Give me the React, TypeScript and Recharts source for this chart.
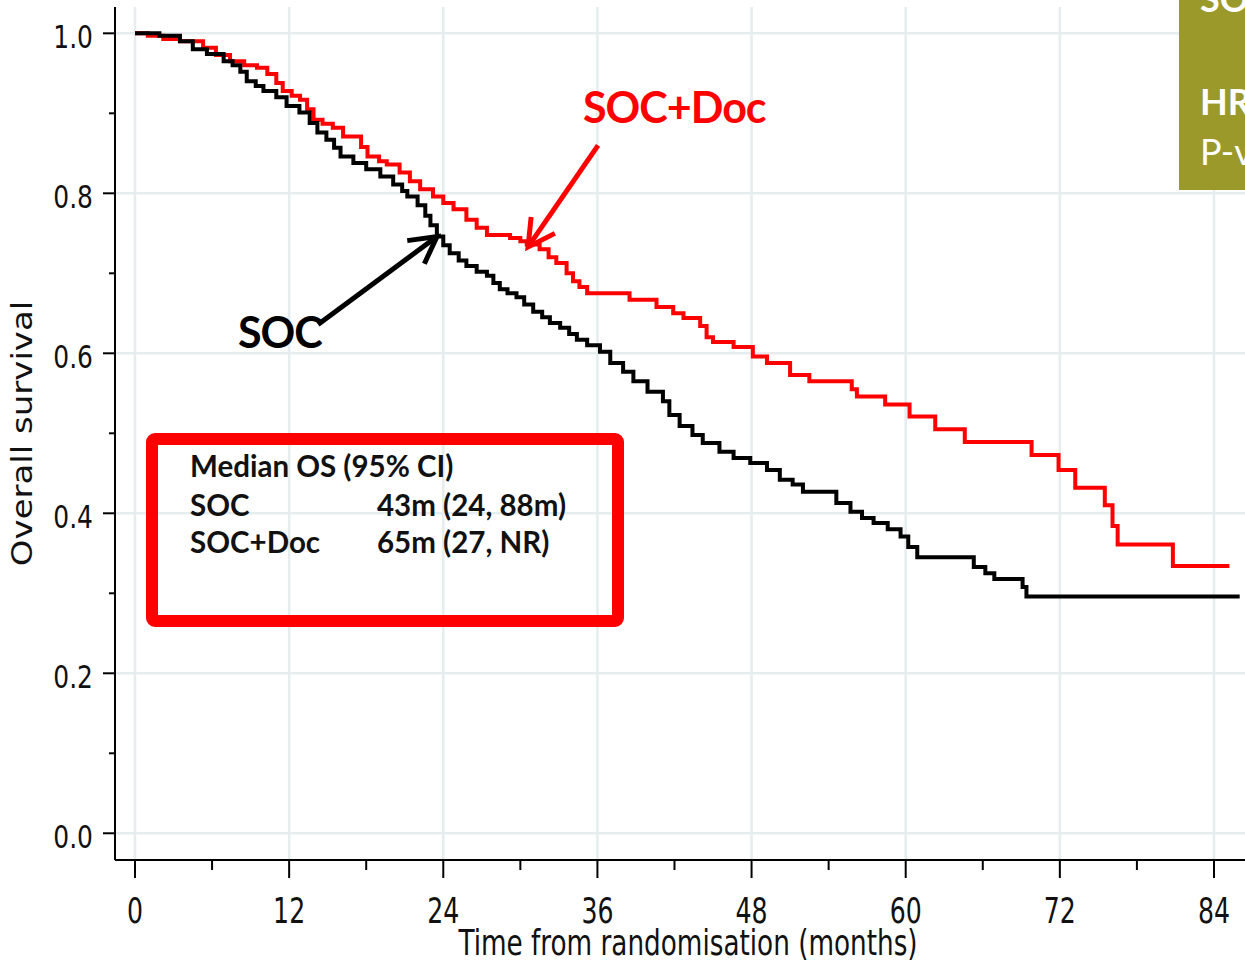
import {
  LineChart,
  Line,
  XAxis,
  YAxis,
  CartesianGrid,
  ReferenceLine,
  ReferenceDot,
} from "recharts";

// Kaplan-Meier steps (months, survival)
const socTime = [
  0, 1.9, 3.5, 4.5, 5.6, 6.9, 7.6, 8.2, 8.7, 9.4, 10.0, 11.0, 11.8, 12.8, 13.6,
  14.2, 14.9, 15.5, 16.0, 17.0, 18.0, 19.1, 20.1, 20.8, 21.2, 22.0, 22.6, 23.0,
  23.5, 24.0, 24.5, 25.2, 25.8, 26.6, 27.4, 27.9, 28.4, 29.0, 29.7, 30.3, 31.0,
  31.7, 32.3, 33.1, 33.8, 34.4, 35.2, 36.2, 37.0, 38.0, 38.8, 39.9, 41.1, 41.6,
  42.4, 43.4, 44.2, 45.5, 46.6, 47.9, 49.2, 50.2, 51.2, 52.0, 54.6, 55.7, 56.6,
  57.5, 58.6, 59.6, 60.2, 60.9, 65.3, 66.2, 66.9, 69.1, 69.4, 86.0,
];
const socSurv = [
  1.0, 0.997, 0.99, 0.98, 0.974, 0.965, 0.96, 0.952, 0.94, 0.934, 0.928, 0.92,
  0.909, 0.901, 0.888, 0.876, 0.867, 0.857, 0.846, 0.838, 0.83, 0.821, 0.811,
  0.803, 0.796, 0.785, 0.772, 0.76, 0.746, 0.735, 0.725, 0.716, 0.709, 0.702,
  0.697, 0.688, 0.68, 0.675, 0.67, 0.661, 0.652, 0.645, 0.638, 0.632, 0.624,
  0.617, 0.61, 0.602, 0.588, 0.577, 0.565, 0.552, 0.54, 0.523, 0.509, 0.498,
  0.488, 0.477, 0.469, 0.463, 0.454, 0.442, 0.436, 0.427, 0.413, 0.402, 0.394,
  0.388, 0.38, 0.371, 0.358, 0.345, 0.333, 0.325, 0.318, 0.308, 0.296, 0.296,
];

const docTime = [
  0, 1.0, 2.2, 3.5, 5.3, 6.3, 7.4, 8.5, 9.5, 10.3, 11.0, 11.5, 12.2, 12.85,
  13.4, 13.9, 14.6, 15.4, 16.2, 17.6, 18.1, 19.0, 19.6, 20.6, 21.4, 22.2, 23.2,
  24.0, 24.8, 25.8, 26.6, 27.4, 29.2, 30.0, 30.5, 31.5, 32.2, 32.8, 33.6, 34.1,
  34.6, 35.2, 38.5, 40.6, 41.9, 42.7, 44.0, 44.5, 45.0, 46.6, 48.1, 49.2, 51.0,
  52.5, 55.8, 56.2, 58.4, 60.3, 62.3, 64.6, 69.8, 71.9, 73.2, 75.5, 76.1, 76.5,
  80.8, 85.2,
];
const docSurv = [
  1.0, 0.997, 0.993, 0.99, 0.982, 0.973, 0.965, 0.96, 0.957, 0.949, 0.938,
  0.928, 0.922, 0.917, 0.905, 0.892, 0.887, 0.882, 0.871, 0.858, 0.846, 0.84,
  0.836, 0.826, 0.815, 0.805, 0.796, 0.788, 0.78, 0.767, 0.757, 0.748, 0.744,
  0.74, 0.736, 0.73, 0.72, 0.713, 0.7, 0.69, 0.683, 0.675, 0.667, 0.658, 0.65,
  0.644, 0.634, 0.62, 0.614, 0.608, 0.596, 0.588, 0.573, 0.565, 0.555, 0.546,
  0.536, 0.521, 0.505, 0.489, 0.473, 0.454, 0.432, 0.41, 0.384, 0.361, 0.334,
  0.334,
];

const xTicks = [0, 6, 12, 18, 24, 30, 36, 42, 48, 54, 60, 66, 72, 78, 84];
const yTicks = [0, 0.1, 0.2, 0.3, 0.4, 0.5, 0.6, 0.7, 0.8, 0.9, 1.0];
const xGrid = [0, 12, 24, 36, 48, 60, 72, 84];
const yGrid = [0, 0.2, 0.4, 0.6, 0.8, 1.0];

const socData = socTime.map((t, i) => ({ t, s: socSurv[i] }));
const docData = docTime.map((t, i) => ({ t, s: docSurv[i] }));

const axisFont = "'DejaVu Sans', Verdana, sans-serif";
const noteFont = "Lato, 'Open Sans', sans-serif";

const XTick = (props: any) => {
  const { x, y, payload } = props;
  const v = payload.value as number;
  const major = v % 12 === 0;
  return (
    <g>
      <line x1={x} y1={y} x2={x} y2={y + (major ? 18 : 10)} stroke="#000" strokeWidth={2} />
      {major && (
        <text
          transform={`translate(${x},${y + 63}) scale(0.72,1)`}
          textAnchor="middle"
          fontFamily={axisFont}
          fontSize={35}
          fill="#111"
        >
          {v}
        </text>
      )}
    </g>
  );
};

const YTick = (props: any) => {
  const { x, y, payload } = props;
  const v = payload.value as number;
  const major = Math.round(v * 10) % 2 === 0;
  return (
    <g>
      <line x1={x - (major ? 12 : 6)} y1={y} x2={x} y2={y} stroke="#000" strokeWidth={2} />
      {major && (
        <text
          transform={`translate(${x - 22},${y + 15}) scale(0.78,1)`}
          textAnchor="end"
          fontFamily={axisFont}
          fontSize={32}
          fill="#111"
        >
          {v.toFixed(1)}
        </text>
      )}
    </g>
  );
};

// line with an arrow head at the (x2, y2) end
const arrow = (color: string) => (p: any) => {
  const { x1, y1, x2, y2 } = p;
  const a = Math.atan2(y2 - y1, x2 - x1);
  const len = 30;
  const w = 0.5;
  const ax = x2 - len * Math.cos(a - w);
  const ay = y2 - len * Math.sin(a - w);
  const bx = x2 - len * Math.cos(a + w);
  const by = y2 - len * Math.sin(a + w);
  return (
    <g>
      <line x1={x1} y1={y1} x2={x2} y2={y2} stroke={color} strokeWidth={5} />
      <polyline
        points={`${ax},${ay} ${x2},${y2} ${bx},${by}`}
        fill="none"
        stroke={color}
        strokeWidth={5}
        strokeLinejoin="miter"
      />
    </g>
  );
};

const curveLabel = (text: string, color: string) => (p: any) => (
  <text
    x={p.cx}
    y={p.cy}
    fill={color}
    fontFamily={noteFont}
    fontWeight={700}
    fontSize={43}
    letterSpacing={-1}
  >
    {text}
  </text>
);

export default function App() {
  return (
    <div
      style={{
        position: "absolute",
        left: 0,
        top: 0,
        width: 1245,
        height: 962,
        background: "#fff",
        overflow: "hidden",
      }}
    >
      <LineChart width={1245} height={962} margin={{ top: 7, right: 0, bottom: 0, left: 0 }}>
        <CartesianGrid
          stroke="#e6edef"
          strokeWidth={2.5}
          horizontalValues={yGrid}
          verticalValues={xGrid}
        />
        <XAxis
          type="number"
          dataKey="t"
          domain={[-1.557, 86.415]}
          allowDataOverflow
          ticks={xTicks}
          interval={0}
          tickSize={0}
          tickMargin={0}
          tick={<XTick />}
          tickLine={false}
          axisLine={{ stroke: "#000", strokeWidth: 2 }}
          height={102}
          label={{
            value: "Time from randomisation (months)",
            content: (lp: any) => {
              const vb = lp.viewBox;
              return (
                <text
                  transform={`translate(${vb.x + vb.width / 2 + 8},${vb.y + 95}) scale(0.73,1)`}
                  textAnchor="middle"
                  fontFamily={axisFont}
                  fontSize={36}
                  fill="#111"
                >
                  Time from randomisation (months)
                </text>
              );
            },
          }}
        />
        <YAxis
          type="number"
          domain={[-0.0334, 1.0329]}
          allowDataOverflow
          ticks={yTicks}
          interval={0}
          tickSize={0}
          tickMargin={0}
          tick={<YTick />}
          tickLine={false}
          axisLine={{ stroke: "#000", strokeWidth: 2 }}
          width={115}
          label={{
            value: "Overall survival",
            content: (lp: any) => {
              const vb = lp.viewBox;
              return (
                <text
                  transform={`translate(32,${vb.y + vb.height / 2}) scale(0.85,1) rotate(-90)`}
                  textAnchor="middle"
                  fontFamily={axisFont}
                  fontSize={34}
                  fill="#111"
                >
                  Overall survival
                </text>
              );
            },
          }}
        />
        <Line
          data={docData}
          dataKey="s"
          type="stepAfter"
          stroke="#ff0000"
          strokeWidth={4}
          dot={false}
          isAnimationActive={false}
        />
        <Line
          data={socData}
          dataKey="s"
          type="stepAfter"
          stroke="#000000"
          strokeWidth={4}
          dot={false}
          isAnimationActive={false}
        />
        <ReferenceLine
          segment={[
            { x: 36.05, y: 0.86 },
            { x: 30.6, y: 0.733 },
          ]}
          shape={arrow("#ff0000")}
        />
        <ReferenceLine
          segment={[
            { x: 14.25, y: 0.636 },
            { x: 23.51, y: 0.746 },
          ]}
          shape={arrow("#000000")}
        />
        <ReferenceDot x={34.88} y={0.888} r={0} shape={curveLabel("SOC+Doc", "#ff0000")} />
        <ReferenceDot x={8.02} y={0.607} r={0} shape={curveLabel("SOC", "#000000")} />
      </LineChart>

      <svg
        width={1245}
        height={962}
        style={{ position: "absolute", left: 0, top: 0, pointerEvents: "none" }}
      >
        <rect
          x={152}
          y={439}
          width={466}
          height={182}
          rx={3}
          fill="none"
          stroke="#ff0000"
          strokeWidth={12}
        />
        <g fontFamily={noteFont} fontWeight={700} fontSize={29.5} fill="#111">
          <text x={190} y={477}>Median OS (95% CI)</text>
          <text x={190} y={516}>SOC</text>
          <text x={377} y={516}>43m (24, 88m)</text>
          <text x={190} y={553}>SOC+Doc</text>
          <text x={377} y={553}>65m (27, NR)</text>
        </g>
        <rect x={1179} y={0} width={66} height={190} fill="#9b992a" />
        <g fontFamily={noteFont} fontSize={36} fill="#fff">
          <text x={1200} y={12} fontWeight={700}>SOC+Doc vs SOC</text>
          <text x={1200} y={115} fontWeight={700}>HR = 0.78</text>
          <text x={1200} y={165}>P-value = 0.006</text>
        </g>
      </svg>
    </div>
  );
}
